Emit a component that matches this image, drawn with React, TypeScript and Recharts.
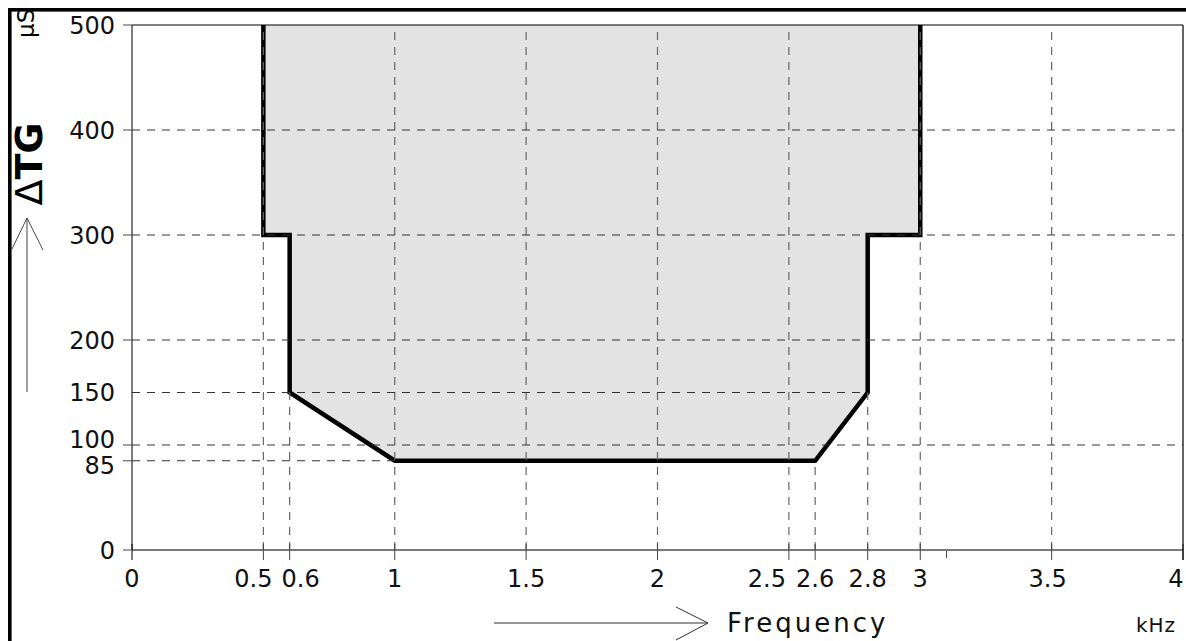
import { ComposedChart, Area, XAxis, YAxis, ReferenceLine } from 'recharts';

// tolerance curve: frequency (kHz) vs ΔTG (µs)
const freq = [0.5, 0.5, 0.6, 0.6, 1, 2.6, 2.8, 2.8, 3, 3];
const delay = [500, 300, 300, 150, 85, 85, 150, 300, 300, 500];

const xTicks = [0, 0.5, 0.6, 1, 1.5, 2, 2.5, 2.6, 2.8, 3, 3.1, 3.5, 4];
const yTicks = [0, 85, 100, 150, 200, 300, 400, 500];

// dashed guide lines: [value, from, to]
const vGuides = [
  [0.5, 0, 500], [0.6, 0, 150], [1, 0, 500], [1.5, 0, 500], [2, 0, 500],
  [2.5, 0, 500], [2.6, 0, 85], [2.8, 0, 150], [3, 0, 500], [3.5, 0, 500],
];
const hGuides = [
  [400, 0, 4], [300, 0, 4], [200, 0, 4], [150, 0, 2.8], [100, 0, 4], [85, 0, 1],
];

const data = freq.map((f, i) => ({ f, d: delay[i] }));

const FONT = '"DejaVu Sans", sans-serif';
const X_LABEL_DX: Record<number, number> = { 0.5: -10, 0.6: 11, 2.5: -22, 3.5: -4, 4: -7 };
const Y_LABEL_DY: Record<number, number> = { 100: -6, 85: 5 };

const XTick = (props: any) => {
  const { x, y, payload } = props;
  const v = payload.value;
  const minor = v === 3.1;
  return (
    <g>
      <line x1={x} x2={x} y1={minor ? y + 1 : y - 6} y2={minor ? y + 8 : y + 10}
        stroke={v === 0 ? '#000' : '#444'} strokeWidth={1} />
      {!minor && (
        <text x={x + (X_LABEL_DX[v] ?? 0)} y={y + 37} textAnchor="middle"
          fontFamily={FONT} fontSize={24} fill="#111">{String(v)}</text>
      )}
    </g>
  );
};

const YTick = (props: any) => {
  const { x, y, payload } = props;
  const v = payload.value;
  return (
    <g>
      {v !== 150 && <line x1={x - 9} x2={x} y1={y} y2={y} stroke="#666" strokeWidth={1.2} />}
      <text x={x - 17} y={y + 8.5 + (Y_LABEL_DY[v] ?? 0)} textAnchor="end"
        fontFamily={FONT} fontSize={24} fill="#111">{String(v)}</text>
    </g>
  );
};

export default function App() {
  return (
    <div style={{ position: 'absolute', left: 0, top: 0, width: 1186, height: 641, background: '#fff' }}>
      <ComposedChart width={1186} height={641} data={data}
        margin={{ top: 25, right: 3, bottom: 0, left: 0 }}>
        <XAxis dataKey="f" type="number" domain={[0, 4]} ticks={xTicks} interval={0}
          allowDataOverflow height={91} tickSize={0} tickMargin={0} tickLine={false}
          tick={<XTick />} axisLine={{ stroke: '#7a7a7a', strokeWidth: 2 }} />
        <YAxis type="number" domain={[0, 500]} ticks={yTicks} interval={0}
          width={132} tickSize={0} tickMargin={0} tickLine={false}
          tick={<YTick />} axisLine={{ stroke: '#000', strokeWidth: 1 }} />
        <Area type="linear" dataKey="d" baseValue={500} stroke="#000" strokeWidth={4.5}
          fill="#e3e3e3" fillOpacity={1} dot={false} activeDot={false}
          isAnimationActive={false} />
        {vGuides.map(([v, a, b]) => (
          <ReferenceLine key={'v' + v} segment={[{ x: v, y: a }, { x: v, y: b }]}
            stroke="#666" strokeWidth={1.2} strokeDasharray="8 7" />
        ))}
        {hGuides.map(([v, a, b]) => (
          <ReferenceLine key={'h' + v} segment={[{ x: a, y: v }, { x: b, y: v }]}
            stroke="#333" strokeWidth={1} strokeDasharray="8 7" />
        ))}
      </ComposedChart>
      <svg width={1186} height={641}
        style={{ position: 'absolute', left: 0, top: 0, pointerEvents: 'none' }}>
        {/* plot frame */}
        <line x1={132} y1={25} x2={1183} y2={25} stroke="#000" strokeWidth={1.2} />
        <line x1={1183} y1={25} x2={1183} y2={560} stroke="#000" strokeWidth={1.2} />
        {/* y title */}
        <text transform="rotate(-90, 42, 164)" x={42} y={164} textAnchor="middle"
          fontFamily={FONT} fontSize={38} fill="#000">
          <tspan fontWeight="normal">{'\u0394'}</tspan>
          <tspan fontWeight="bold">TG</tspan>
        </text>
        <text transform="rotate(-90, 34, 38)" x={34} y={38} textAnchor="start"
          fontFamily={FONT} fontSize={23} fill="#000">µS</text>
        <line x1={27} y1={392} x2={27} y2={218} stroke="#444" strokeWidth={1} />
        <polyline points="12,249 27,218 43,250" fill="none" stroke="#444" strokeWidth={1} />
        {/* x title */}
        <line x1={494} y1={623} x2={708} y2={623} stroke="#333" strokeWidth={1} />
        <polyline points="676,607 708,623 676,640" fill="none" stroke="#333" strokeWidth={1} />
        <text x={727} y={632} fontFamily={FONT} fontSize={26} letterSpacing={3} fill="#111">Frequency</text>
        <text x={1136} y={632} fontFamily={FONT} fontSize={20} letterSpacing={1} fill="#111">kHz</text>
        {/* page frame */}
        <rect x={0} y={0} width={1186} height={8} fill="#fff" />
        <rect x={8} y={8} width={1178} height={3.6} fill="#000" />
        <rect x={8} y={8} width={3.6} height={633} fill="#000" />
      </svg>
    </div>
  );
}
